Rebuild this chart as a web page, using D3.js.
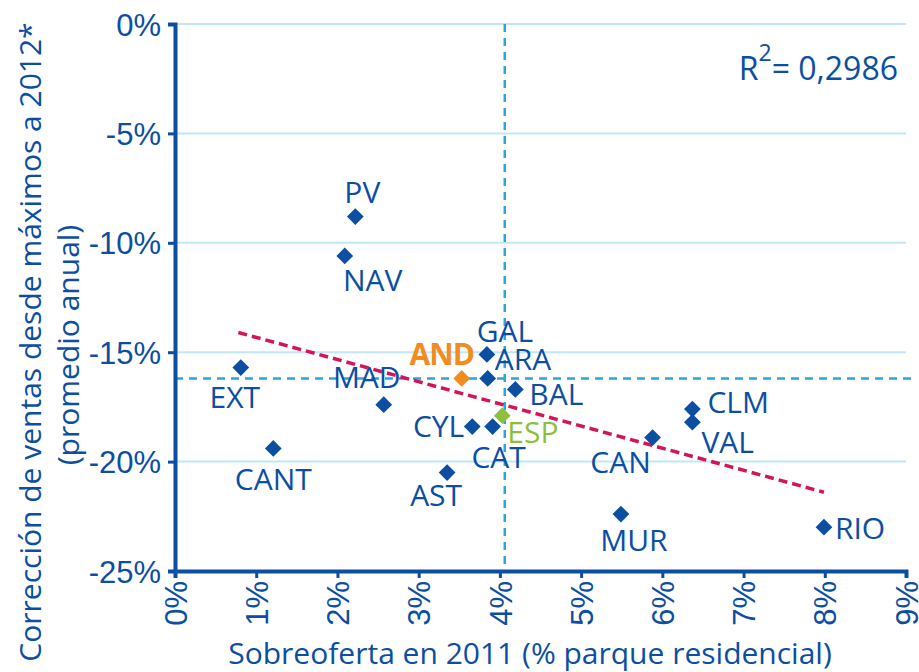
<!DOCTYPE html>
<html>
<head>
<meta charset="utf-8">
<script src="https://cdn.jsdelivr.net/npm/d3@7"></script>
<style>
  body { margin: 0; background: #fff; }
  svg { display: block; font-family: "Open Sans", "Noto Sans", sans-serif; }
</style>
</head>
<body>
<div id="chart"></div>
<script>
var width = 919,
  height = 672,
  margin = {top: 24, right: 11, bottom: 101, left: 175},
  blue = "#0b4ea2",
  grid = "#bfe7f8",
  dash = "#2fa3dc",
  trendColor = "#d4145a";

// data
var regions = ["PV", "NAV", "EXT", "CANT", "MAD", "AND", "GAL", "ARA", "BAL", "CYL", "CAT", "ESP", "AST", "CAN", "CLM", "VAL", "MUR", "RIO"];
var sobreoferta = [2.22, 2.09, 0.81, 1.21, 2.57, 3.53, 3.84, 3.85, 4.19, 3.66, 3.91, 4.03, 3.35, 5.88, 6.37, 6.37, 5.49, 7.99];
var correccion = [-8.8, -10.6, -15.7, -19.4, -17.4, -16.2, -15.1, -16.2, -16.7, -18.4, -18.4, -17.9, -20.5, -18.9, -17.6, -18.2, -22.4, -23.0];
var xTicks = [0, 1, 2, 3, 4, 5, 6, 7, 8, 9];
var yTicks = [0, -5, -10, -15, -20, -25];
var trendX = [0.78, 7.99];
var trendY = [-14.1, -21.4];
var meanX = 4.06, meanY = -16.2;
var r2 = "0,2986";

// label placement: [dx, dy, anchor]
var labelPos = {
  PV: [7, -14, "middle"], NAV: [28, 35, "middle"], EXT: [-6, 40, "middle"],
  CANT: [0, 42, "middle"], MAD: [-17, -17, "middle"], AND: [-20, -13, "middle"],
  GAL: [18, -12, "middle"], ARA: [7, -8, "start"], BAL: [14, 16, "start"],
  CYL: [-8, 10, "end"], CAT: [6, 41, "middle"], ESP: [5, 27, "start"],
  AST: [-11, 33, "middle"], CAN: [-32, 35, "middle"], CLM: [15, 4, "start"],
  VAL: [9, 31, "start"], MUR: [13, 37, "middle"], RIO: [11, 12, "start"]
};
var pointColor = {AND: "#f28c1f", ESP: "#8dbf3e"};

var x = d3.scaleLinear().domain([0, 9]).range([margin.left, width - margin.right - 2]);
var y = d3.scaleLinear().domain([-25, 0]).range([height - margin.bottom, margin.top]);

var svg = d3.select("#chart").append("svg")
  .attr("width", width)
  .attr("height", height);

// gridlines
svg.append("g").selectAll("line")
  .data(yTicks.filter(function (d) { return d > -25; }))
  .enter().append("line")
  .attr("x1", x(0)).attr("x2", x(9))
  .attr("y1", function (d) { return y(d); })
  .attr("y2", function (d) { return y(d); })
  .attr("stroke", grid)
  .attr("stroke-width", 2);

// mean lines
svg.append("line")
  .attr("x1", x(meanX)).attr("x2", x(meanX))
  .attr("y1", y(0)).attr("y2", y(-25))
  .attr("stroke", dash).attr("stroke-width", 2.5)
  .attr("stroke-dasharray", "8,6");
svg.append("line")
  .attr("x1", x(0)).attr("x2", width - 2)
  .attr("y1", y(meanY)).attr("y2", y(meanY))
  .attr("stroke", dash).attr("stroke-width", 2.5)
  .attr("stroke-dasharray", "8,6");

// trend
svg.append("line")
  .attr("x1", x(trendX[0])).attr("y1", y(trendY[0]))
  .attr("x2", x(trendX[1])).attr("y2", y(trendY[1]))
  .attr("stroke", trendColor).attr("stroke-width", 3.5)
  .attr("stroke-dasharray", "9,5");

// axes
var yAxis = svg.append("g")
  .attr("transform", "translate(" + x(0) + ",0)")
  .call(d3.axisLeft(y).tickValues(yTicks).tickSize(7).tickFormat(function (d) { return d + "%"; }));
var xAxis = svg.append("g")
  .attr("transform", "translate(0," + y(-25) + ")")
  .call(d3.axisBottom(x).tickValues(xTicks).tickSize(7).tickFormat(function (d) { return d + "%"; }));

[yAxis, xAxis].forEach(function (a) {
  a.select(".domain").attr("stroke", blue).attr("stroke-width", 4);
  a.selectAll(".tick line").attr("stroke", blue).attr("stroke-width", 3);
  a.selectAll("text").attr("fill", blue).attr("font-size", 31).attr("font-family", null);
});
yAxis.selectAll("text").attr("x", -14).attr("dy", "0.36em");
xAxis.selectAll("text")
  .attr("transform", "rotate(-90)")
  .attr("x", -10).attr("y", 0).attr("dy", "0.36em")
  .attr("text-anchor", "end");

// points
var pts = svg.append("g").selectAll("g")
  .data(regions)
  .enter().append("g")
  .attr("transform", function (d, i) { return "translate(" + x(sobreoferta[i]) + "," + y(correccion[i]) + ")"; });

pts.append("path")
  .attr("d", d3.symbol().type(d3.symbolSquare).size(140))
  .attr("transform", "rotate(45)")
  .attr("fill", function (d) { return pointColor[d] || blue; });

pts.append("text")
  .attr("x", function (d) { return labelPos[d][0]; })
  .attr("y", function (d) { return labelPos[d][1]; })
  .attr("text-anchor", function (d) { return labelPos[d][2]; })
  .attr("font-size", 30)
  .attr("font-weight", function (d) { return d === "AND" ? "bold" : null; })
  .attr("letter-spacing", function (d) { return d === "AND" ? -1 : null; })
  .attr("fill", function (d) { return pointColor[d] || blue; })
  .text(function (d) { return d; });

// R2
var rt = svg.append("text")
  .attr("x", 898).attr("y", 80)
  .attr("text-anchor", "end")
  .attr("font-size", 32)
  .attr("fill", blue);
rt.append("tspan").text("R");
rt.append("tspan").attr("dy", -19).attr("font-size", 23).text("2");
rt.append("tspan").attr("dy", 19).text("= " + r2);

// axis titles
svg.append("text")
  .attr("transform", "translate(41,342) rotate(-90)")
  .attr("text-anchor", "middle")
  .attr("font-size", 30)
  .attr("fill", blue)
  .text("Corrección de ventas desde máximos a 2012*");
svg.append("text")
  .attr("transform", "translate(79,345) rotate(-90)")
  .attr("text-anchor", "middle")
  .attr("font-size", 30)
  .attr("fill", blue)
  .text("(promedio anual)");
svg.append("text")
  .attr("x", 530).attr("y", 664)
  .attr("text-anchor", "middle")
  .attr("font-size", 30)
  .attr("fill", blue)
  .text("Sobreoferta en 2011 (% parque residencial)");
</script>
</body>
</html>
